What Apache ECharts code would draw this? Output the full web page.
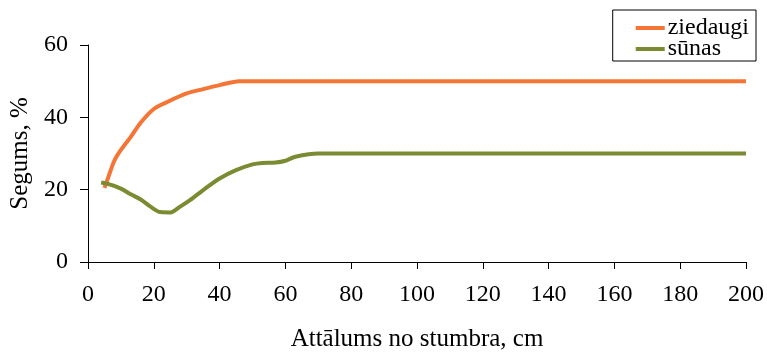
<!DOCTYPE html>
<html>
<head>
<meta charset="utf-8">
<script src="https://cdn.jsdelivr.net/npm/echarts@6/dist/echarts.min.js"></script>
<style>
  html, body { margin: 0; padding: 0; background: #fff; }
  #chart { width: 767px; height: 354px; }
</style>
</head>
<body>
<div id="chart"></div>
<script>
// Ground cover (%) by distance from the stump (cm)
const ziedaugiX = [5, 6, 8, 10, 13, 16, 20, 24, 30, 35, 40, 46, 50, 100, 150, 200];
const ziedaugiY = [20.5, 23, 28, 31, 34.6, 38.5, 42.3, 44.2, 46.6, 47.8, 48.9, 50, 50, 50, 50, 50];

const sunasX = [4, 6, 10, 13, 16, 19, 22, 25, 28, 31, 35, 40, 45, 50, 53, 57, 60, 63, 70, 100, 150, 200];
const sunasY = [22, 21.6, 20.3, 18.7, 17.3, 15.3, 13.8, 13.7, 15.3, 17.1, 19.9, 23.1, 25.4, 27, 27.4, 27.5, 28, 29.1, 30, 30, 30, 30];

const xTicks = [0, 20, 40, 60, 80, 100, 120, 140, 160, 180, 200];
const yTicks = [0, 20, 40, 60];

const seriesNames = ['ziedaugi', 'sūnas'];
const colors = ['#F47535', '#7B8B32'];

const pairs = (xs, ys) => xs.map((x, i) => [x, ys[i]]);

const font = 'Liberation Serif';
const tickSize = 24;
const titleSize = 25;
const axisLine = { show: true, lineStyle: { color: '#000', width: 1 } };

const chart = echarts.init(document.getElementById('chart'), null, { renderer: 'canvas' });
chart.setOption({
  animation: false,
  backgroundColor: '#fff',
  textStyle: { fontFamily: font },
  grid: { left: 88, right: 21, top: 45, bottom: 92, containLabel: false, outerBoundsMode: 'none' },
  legend: {
    data: seriesNames,
    orient: 'vertical',
    right: 11,
    top: 10,
    padding: [6, 7, 0, 23],
    itemGap: -3,
    itemWidth: 29,
    itemHeight: 4,
    icon: 'rect',
    borderColor: '#000',
    borderWidth: 1,
    textStyle: { fontFamily: font, fontSize: tickSize, color: '#000', padding: [0, 0, 0, -2] }
  },
  xAxis: {
    type: 'value',
    min: xTicks[0],
    max: xTicks[xTicks.length - 1],
    interval: xTicks[1] - xTicks[0],
    name: 'Attālums no stumbra, cm',
    nameLocation: 'middle',
    nameGap: 65,
    nameTextStyle: { fontFamily: font, fontSize: titleSize, color: '#000' },
    axisLine: axisLine,
    axisTick: { show: true, inside: false, length: 7, lineStyle: { color: '#000' } },
    axisLabel: { fontFamily: font, fontSize: tickSize, color: '#000', margin: 21 },
    splitLine: { show: false }
  },
  yAxis: {
    type: 'value',
    min: yTicks[0],
    max: yTicks[yTicks.length - 1],
    interval: yTicks[1] - yTicks[0],
    name: 'Segums, %',
    nameLocation: 'middle',
    nameGap: 54,
    nameTextStyle: { fontFamily: font, fontSize: titleSize, color: '#000' },
    axisLine: axisLine,
    axisTick: { show: true, inside: false, length: 8, lineStyle: { color: '#000' } },
    axisLabel: { fontFamily: font, fontSize: tickSize, color: '#000', margin: 20 },
    splitLine: { show: false }
  },
  series: [
    {
      name: seriesNames[0],
      type: 'line',
      data: pairs(ziedaugiX, ziedaugiY),
      showSymbol: false,
      symbol: 'none',
      smooth: 0.3,
      color: colors[0],
      lineStyle: { color: colors[0], width: 4 }
    },
    {
      name: seriesNames[1],
      type: 'line',
      data: pairs(sunasX, sunasY),
      showSymbol: false,
      symbol: 'none',
      smooth: 0.3,
      color: colors[1],
      lineStyle: { color: colors[1], width: 4 }
    }
  ]
});
</script>
</body>
</html>
